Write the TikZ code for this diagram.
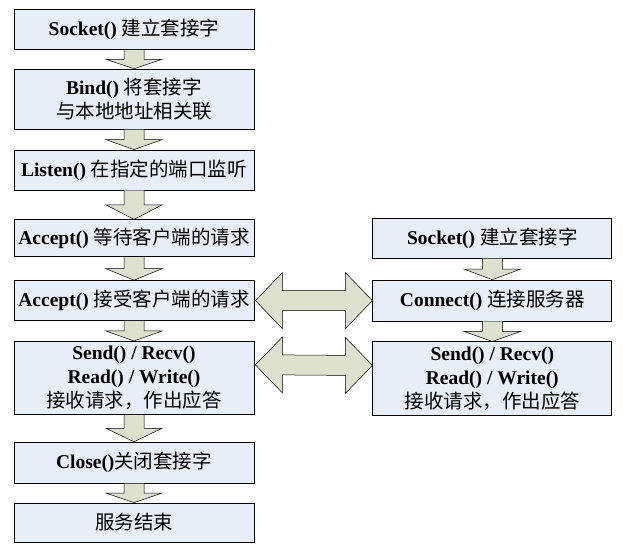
\documentclass[tikz,border=0pt]{standalone}
\usepackage{fontspec}
\setmainfont{Liberation Serif}
\newfontfamily\zhfont{Noto Sans CJK SC}
\usepackage{tikz}
\usetikzlibrary{positioning,calc}

\definecolor{boxfill}{RGB}{232,238,247}
\definecolor{arrowfill}{RGB}{221,224,204}
\newcommand{\zh}[1]{{\zhfont\mdseries\fontsize{19.5}{24}\selectfont #1}}
\newcommand{\downarr}[2]{%
  \draw[block arrow] ($(#1.south)+(-10,0)$) -- ($(#1.south)!0.5!(#2.north)+(-10,0)$) -- ++(-18,0) -- (#2.north)
    -- ($(#1.south)!0.5!(#2.north)+(28,0)$) -- ++(-18,0) -- ($(#1.south)+(10,0)$);}
\newcommand{\bothwayarr}[2]{%
  \draw[block arrow] (#1) -- ($(#1)+(27,28)$) -- ($(#1)+(27,10)$) -- ($(#2)+(-27,10)$) -- ($(#2)+(-27,28)$) -- (#2)
    -- ($(#2)+(-27,-28)$) -- ($(#2)+(-27,-10)$) -- ($(#1)+(27,-10)$) -- ($(#1)+(27,-28)$) -- cycle;}

\begin{document}
\begin{tikzpicture}[x=1pt,y=1pt,node distance=20pt,
  main node/.style={rectangle,draw,line width=0.8pt,fill=boxfill,minimum width=240pt,inner sep=0pt,
    align=center,font=\fontsize{19.5}{24}\selectfont\bfseries},
  block arrow/.style={draw,line width=0.5pt,fill=arrowfill}]
  \useasboundingbox (0,0) rectangle (623,557);

  % server side
  \node[main node,minimum height=40pt,anchor=north] (1) at (134,548) {Socket() \zh{建立套接字}};
  \node[main node,minimum height=60pt] (2) [below=19pt of 1] {Bind() \zh{将套接字}\\ \zh{与本地地址相关联}};
  \node[main node,minimum height=40pt] (3) [below=20pt of 2] {Listen() \zh{在指定的端口监听}};
  \node[main node,minimum height=37pt] (4) [below=29pt of 3] {Accept() \zh{等待客户端的请求}};
  \node[main node,minimum height=40pt] (5) [below=23pt of 4] {Accept() \zh{接受客户端的请求}};
  \node[main node,minimum height=73pt] (6) [below=20pt of 5] {Send() / Recv()\\ Read() / Write()\\ \zh{接收请求，作出应答}};
  \node[main node,minimum height=41pt] (7) [below=27pt of 6] {Close()\zh{关闭套接字}};
  \node[main node,minimum height=39pt] (8) [below=19pt of 7] {\zh{服务结束}};

  % client side
  \node[main node,minimum height=40pt,minimum width=239pt] (9) [right=118pt of 4] {Socket() \zh{建立套接字}};
  \node[main node,minimum height=41pt,minimum width=239pt] (10) [below=21pt of 9] {Connect() \zh{连接服务器}};
  \node[main node,minimum height=73pt,minimum width=239pt] (11) [below=20pt of 10] {Send() / Recv()\\ Read() / Write()\\ \zh{接收请求，作出应答}};

  \downarr{1}{2}
  \downarr{2}{3}
  \downarr{3}{4}
  \downarr{4}{5}
  \downarr{5}{6}
  \downarr{6}{7}
  \downarr{7}{8}
  \downarr{9}{10}
  \downarr{10}{11}

  \coordinate (a) at ($(6.east)+(1,13)$);
  \coordinate (b) at ($(11.west)+(0,13)$);
  \bothwayarr{$(5.east)+(1,0)$}{10.west}
  \bothwayarr{a}{b}
\end{tikzpicture}
\end{document}
